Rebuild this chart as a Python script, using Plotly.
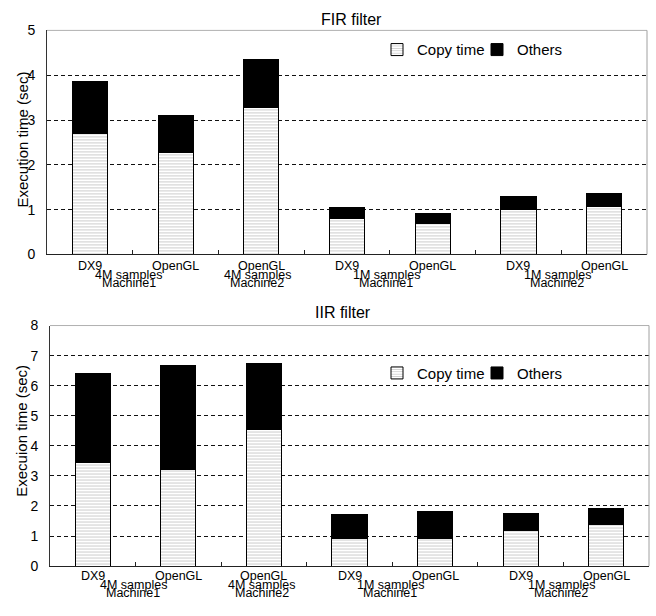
import plotly.graph_objects as go

# ---------------- data ----------------
categories = ["DX9", "OpenGL", "OpenGL", "DX9", "OpenGL", "DX9", "OpenGL"]
group_labels = [("4M samples", "Machine1"), ("4M samples", "Machine2"),
                ("1M samples", "Machine1"), ("1M samples", "Machine2")]
group_positions = [0.5, 2, 3.5, 5.5]

fir_copy = [2.71, 2.27, 3.27, 0.81, 0.70, 1.01, 1.07]
fir_others = [1.14, 0.83, 1.08, 0.23, 0.22, 0.29, 0.28]
iir_copy = [3.44, 3.22, 4.54, 0.93, 0.93, 1.17, 1.38]
iir_others = [2.97, 3.44, 2.19, 0.80, 0.87, 0.59, 0.55]

fir_yticks = [0, 1, 2, 3, 4, 5]
iir_yticks = [0, 1, 2, 3, 4, 5, 6, 7, 8]

series_names = ["Copy time", "Others"]
titles = ["FIR filter", "IIR filter"]
ytitles = ["Execution time (sec)", "Execuion time (sec)"]

# ---------------- layout geometry ----------------
W, H = 656, 616
FONT = "Arial, Liberation Sans, sans-serif"
xpos = list(range(len(categories)))


def py(v):
    return 1 - v / H


def px(v):
    return v / W


panels = [
    dict(x0=47, x1=647, y0=23, y1=253, copy=fir_copy, others=fir_others,
         yticks=fir_yticks, xa="x", ya="y", legends=("legend", "legend3"),
         lab_y=[265.0, 274.0, 282.0], title_y=12, title_x=351, ytitle_y=135,
         shift=-0.045, leg_y=26),
    dict(x0=50, x1=649, y0=326, y1=573, copy=iir_copy, others=iir_others,
         yticks=iir_yticks, xa="x2", ya="y2", legends=("legend2", "legend4"),
         lab_y=[583.5, 592.5, 600.5], title_y=312.5, title_x=343, ytitle_y=434,
         shift=-0.025, leg_y=358),
]

fig = go.Figure()
annotations = []
shapes = []
layout = {}

legend_common = dict(orientation="h", xanchor="left", yanchor="top",
                     bgcolor="rgba(0,0,0,0)", borderwidth=0,
                     font=dict(family=FONT, size=15, color="black"),
                     itemwidth=30, traceorder="normal")

for i, p in enumerate(panels):
    fig.add_trace(go.Bar(
        x=xpos, y=p["copy"], name=series_names[0], xaxis=p["xa"], yaxis=p["ya"],
        width=0.41, legend=p["legends"][0], showlegend=True,
        marker=dict(color="white", line=dict(color="black", width=1),
                    pattern=dict(shape="-", fgcolor="#9a9a9a", bgcolor="white",
                                 size=3, solidity=0.35)),
    ))
    fig.add_trace(go.Bar(
        x=xpos, y=p["others"], name=series_names[1], xaxis=p["xa"], yaxis=p["ya"],
        width=0.41, legend=p["legends"][1], showlegend=True,
        marker=dict(color="black", line=dict(color="black", width=1)),
    ))
    layout[p["legends"][0]] = dict(legend_common, x=px(377), y=py(p["leg_y"]))
    layout[p["legends"][1]] = dict(legend_common, x=px(477), y=py(p["leg_y"]))

    suffix = "" if i == 0 else str(i + 1)
    layout["xaxis" + suffix] = dict(
        domain=[px(p["x0"]), px(p["x1"])], range=[-0.5, len(categories) - 0.5],
        anchor=p["ya"], showticklabels=False, showgrid=False, zeroline=False,
        tickmode="array", tickvals=[k + 0.5 for k in range(len(categories) - 1)],
        ticks="inside", ticklen=4, tickcolor="#222", tickwidth=1,
        showline=True, linecolor="#222", linewidth=1,
    )
    layout["yaxis" + suffix] = dict(
        domain=[py(p["y1"]), py(p["y0"])], range=[0, p["yticks"][-1]],
        anchor=p["xa"], tickmode="array", tickvals=p["yticks"],
        ticks="", showgrid=True, gridcolor="#111", griddash="4px,3px", gridwidth=1,
        zeroline=False, showline=True, linecolor="#333", linewidth=1,
        tickfont=dict(family=FONT, size=14, color="black"), ticklabelstandoff=8,
    )
    # frame (top and right)
    xd, yd = p["xa"] + " domain", p["ya"] + " domain"
    shapes.append(dict(type="line", xref=xd, yref=yd, x0=0, x1=1, y0=1, y1=1,
                       line=dict(color="#b0b0b0", width=1), layer="below"))
    shapes.append(dict(type="line", xref=xd, yref=yd, x0=1, x1=1, y0=0, y1=1,
                       line=dict(color="#a0a0a0", width=1)))

    # category labels
    for k, c in enumerate(categories):
        annotations.append(dict(x=k, y=py(p["lab_y"][0]), xref=p["xa"], yref="paper",
                                text=c, showarrow=False, yanchor="middle",
                                font=dict(family=FONT, size=12.5, color="black")))
    for (l1, l2), gpos in zip(group_labels, group_positions):
        for t, yy in zip((l1, l2), p["lab_y"][1:]):
            annotations.append(dict(x=gpos + p["shift"], y=py(yy), xref=p["xa"], yref="paper",
                                    text=t, showarrow=False, yanchor="middle",
                                    font=dict(family=FONT, size=12.5, color="black")))
    # title
    annotations.append(dict(x=px(p["title_x"]), y=py(p["title_y"]), xref="paper", yref="paper",
                            text=titles[i], showarrow=False, yanchor="middle",
                            font=dict(family=FONT, size=16, color="black")))
    # y title
    annotations.append(dict(x=px(22), y=py(p["ytitle_y"]), xref="paper", yref="paper",
                            text=ytitles[i], showarrow=False, textangle=-90,
                            xanchor="center", yanchor="middle",
                            font=dict(family=FONT, size=15, color="black")))

fig.update_layout(
    width=W, height=H, margin=dict(l=0, r=0, t=0, b=0),
    paper_bgcolor="white", plot_bgcolor="white",
    barmode="stack", showlegend=True,
    font=dict(family=FONT, size=14, color="black"),
    annotations=annotations, shapes=shapes,
    **layout,
)

fig.write_html("out.html")
